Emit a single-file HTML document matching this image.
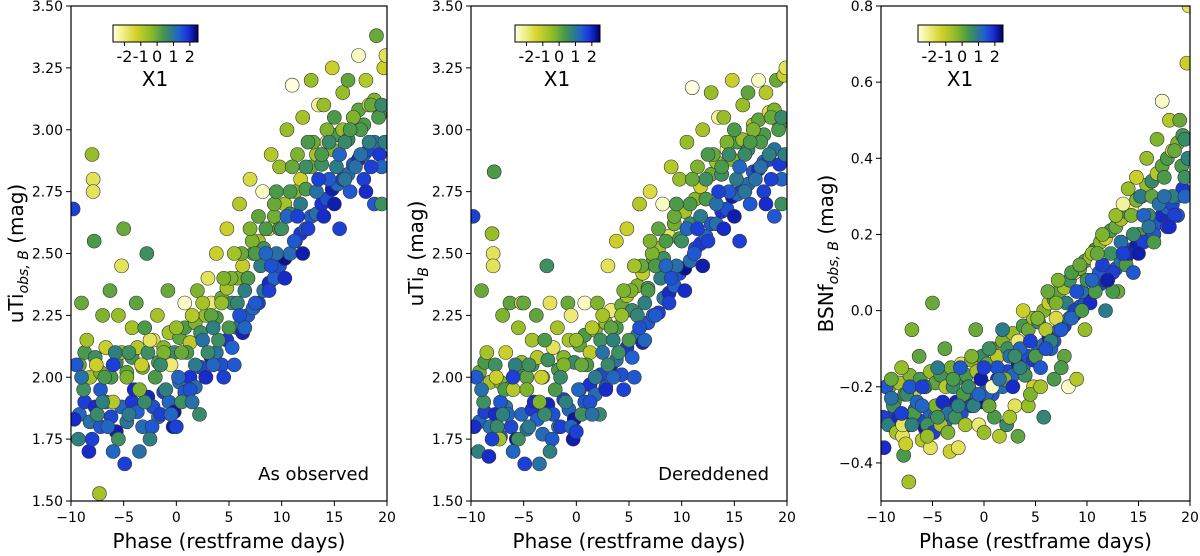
<!DOCTYPE html>
<html><head><meta charset="utf-8">
<style>
html,body{margin:0;padding:0;background:#fff;}
svg{display:block;font-family:"DejaVu Sans","Liberation Sans",sans-serif;}
</style></head>
<body>
<svg id="fig" width="1200" height="556" viewBox="0 0 1200 556">
<defs>
<linearGradient id="cmap" x1="0" x2="1" y1="0" y2="0">
<stop offset="0" stop-color="#ffffe0"/><stop offset="0.13" stop-color="#eeee80"/><stop offset="0.27" stop-color="#d2d22a"/>
<stop offset="0.46" stop-color="#88b828"/><stop offset="0.58" stop-color="#4a9a4a"/><stop offset="0.68" stop-color="#2e8080"/>
<stop offset="0.78" stop-color="#2060d0"/><stop offset="0.88" stop-color="#1a30d8"/><stop offset="1" stop-color="#000068"/>
</linearGradient>
</defs>
</svg>
<script>
const phases=[-9.8,-9.7,-9.5,-9.3,-9.0,-8.8,-8.5,-8.3,-8.0,-7.9,
-7.9,-7.8,-7.6,-7.5,-7.3,-7.2,-7.0,-6.8,-6.5,-6.3,
-6.0,-5.8,-5.5,-5.2,-5.0,-4.9,-4.7,-4.5,-4.2,-4.0,
-3.8,-3.5,-3.3,-3.0,-2.8,-2.5,-2.3,-2.0,-1.8,-1.5,
-1.2,-1.0,-0.8,-0.5,-0.3,0,0.2,0.5,0.8,1.0,
1.3,1.5,1.8,2.0,2.2,2.5,2.8,3.0,3.3,3.5,
3.8,4.0,4.3,4.5,4.8,5.0,5.2,5.5,5.8,6.0,
6.2,6.5,6.8,7.0,7.2,7.5,7.8,8.0,8.2,8.5,
8.8,9.0,9.3,9.5,9.8,10.0,10.3,10.5,10.8,11.0,
11.2,11.5,11.8,12.0,12.3,12.5,12.8,13.0,13.3,13.5,
13.8,14.0,14.3,14.5,14.8,15.0,15.2,15.5,15.8,16.0,
16.3,16.5,16.8,17.0,17.3,17.5,17.8,18.0,18.3,18.5,
18.8,19.0,19.2,19.5,19.7,19.8,19.9,19.5,
-9,-8,-7,-6,-5.5,-4.5,-3.5,-2.5,-1.5,-0.5,
0.5,1.5,2.5,3.5,4.5,5.5,6.5,7.5,8.5,9.5,
10.5,11.5,12.5,13.5,14.5,15.5,16.5,17.5,18.5,19.5,
3,6,9,12,15,18,0,-3,-6,7,11,14,16];
const x1s=[1.5,1.8,1.2,0.5,-0.3,0.2,-1,1.8,-0.8,-2,
-2,0,-1.5,0.3,-1,1.2,-0.5,0,1,-0.2,
-1.2,0.5,0.2,-2,-0.3,1.5,-0.5,0.6,-1,1.8,
-0.2,0.8,-1.5,0.3,0.2,-2,1.2,0,-1,1.5,
-0.5,0.5,-0.3,-2.2,2,-0.8,1,0.2,-2.8,0,
1.3,-1.2,0.6,-0.5,0.3,0.8,1.8,-2,-0.2,1,
-1.5,0.2,-0.8,1.5,-1.5,0,-0.5,1.2,0.4,-1.2,
-0.3,1,0,-1.8,-0.5,1.2,-0.2,0.5,-2.8,0,
1.5,-1.2,-0.3,0.8,-0.8,0.2,1.8,-0.8,0,-3,
1.2,-0.5,0.6,-1,0.2,1.5,-0.8,-0.3,0.8,-2.5,
0,1.8,-0.5,1.2,-1.5,0,0.6,1.5,-0.8,0.3,
-0.2,1.2,-0.5,0.8,-2.8,0,1.5,-1.2,0.5,-0.3,
1.2,-0.3,0,1,-1.5,0.5,-2,0.2,
0.8,1.5,0.5,1.5,-0.8,0.2,-0.5,0.5,0.3,1,
-0.3,0.8,-1,0.5,-0.5,-1,0.5,0,1,0,
1,1.5,0,1.5,0.3,1,0,0.8,1.5,0.3,
0.3,1.3,1.3,2,2,1.8,1.5,0,1,-0.5,-0.3,-0.8,0.7];
const magsObs=[2.68,1.83,2.05,1.75,2.3,1.95,2.15,1.7,2.9,2.8,
2.75,2.55,2.05,1.85,1.53,1.95,2.25,2.0,1.8,2.35,
1.9,2.1,1.75,2.45,2.6,1.65,2.0,1.85,2.2,1.95,
2.3,1.7,2.05,1.9,2.5,2.15,1.8,2.0,2.25,1.85,
2.1,1.95,2.35,2.05,1.8,2.2,2.0,1.9,2.3,2.1,
1.95,2.25,2.05,2.35,1.85,2.15,2.0,2.4,2.25,2.05,
2.5,2.15,2.3,2.0,2.6,2.2,2.4,2.05,2.3,2.7,
2.5,2.2,2.4,2.8,2.55,2.3,2.65,2.45,2.75,2.6,
2.35,2.9,2.7,2.5,2.85,2.6,2.4,3.0,2.75,3.18,
2.55,2.9,2.7,3.05,2.85,2.6,3.2,2.95,2.75,3.1,
2.9,2.65,3.0,2.8,3.25,3.05,2.85,2.6,3.15,2.95,
3.2,2.75,3.05,2.85,3.3,3.0,2.8,3.2,2.95,3.1,
2.7,3.38,3.05,2.85,3.25,2.95,3.3,2.7,
2.0,1.75,1.9,2.05,2.25,2.1,1.95,1.75,2.05,1.85,
2.1,1.9,2.3,2.2,2.4,2.5,2.35,2.5,2.5,2.75,
2.65,2.65,2.95,2.8,2.95,2.9,3.0,2.9,2.85,3.1,
2.1,2.25,2.45,2.5,2.7,2.75,1.8,2.2,1.7,2.6,2.85,3.1,2.8];
const magsDered=[2.65,1.8,2.0,1.7,2.35,1.9,2.1,1.68,2.58,2.5,
2.45,2.83,2.0,1.8,1.75,1.9,2.25,1.95,1.85,2.3,
1.95,2.05,1.75,2.3,2.3,1.65,1.95,1.8,2.15,1.9,
2.25,1.65,2.0,1.85,2.45,2.3,1.75,1.95,2.2,1.8,
2.05,1.9,2.3,2.25,1.75,2.15,1.95,1.85,2.3,2.05,
1.9,2.2,2.0,2.3,1.85,2.1,1.95,2.45,2.2,2.0,
2.55,2.1,2.25,1.95,2.6,2.15,2.35,2.0,2.25,2.7,
2.45,2.15,2.35,2.75,2.5,2.25,2.6,2.4,2.7,2.55,
2.3,2.85,2.65,2.45,2.8,2.55,2.35,2.95,2.7,3.17,
2.5,2.85,2.65,3.0,2.8,2.55,3.15,2.9,2.7,3.05,
2.85,2.6,2.95,2.75,3.2,3.0,2.8,2.55,3.1,2.9,
3.15,2.7,3.0,2.8,3.2,2.95,2.75,3.15,2.9,3.05,
2.65,3.2,3.0,2.8,3.22,2.9,3.25,2.7,
1.95,1.75,1.85,2.0,2.2,2.05,1.9,1.7,2.0,1.8,
2.05,1.85,2.25,2.15,2.35,2.45,2.3,2.45,2.45,2.7,
2.6,2.6,2.9,2.75,2.9,2.85,2.95,2.85,2.8,3.05,
2.05,2.2,2.4,2.45,2.65,2.7,1.78,2.15,1.7,2.55,2.8,3.05,2.75];
const magsBSNf=[-0.28,-0.36,-0.2,-0.3,-0.18,-0.25,-0.32,-0.28,-0.15,-0.33,
-0.3,-0.38,-0.35,-0.22,-0.45,-0.2,-0.05,-0.27,-0.24,-0.12,
-0.34,-0.2,-0.3,-0.36,0.02,-0.32,-0.25,-0.15,-0.3,-0.24,
-0.1,-0.27,-0.37,-0.2,-0.28,-0.36,-0.15,-0.22,-0.3,-0.2,
-0.12,-0.25,-0.05,-0.3,-0.18,-0.32,-0.22,-0.1,-0.2,-0.28,
-0.15,-0.33,-0.05,-0.18,-0.3,-0.12,-0.2,-0.25,-0.33,-0.1,
0.0,-0.17,-0.25,-0.08,-0.2,-0.12,-0.02,-0.15,-0.28,-0.05,
0.05,-0.1,-0.18,-0.02,0.08,-0.05,-0.12,0.02,-0.2,0.1,
0.0,-0.18,0.12,0.05,-0.05,0.08,0.02,0.15,0.05,0.12,
0.1,0.2,0.0,0.08,0.15,0.1,0.25,0.05,0.18,0.28,
0.12,0.15,0.25,0.1,0.35,0.2,0.3,0.18,0.4,0.25,
0.3,0.2,0.45,0.28,0.55,0.35,0.22,0.5,0.3,0.42,
0.25,0.5,0.38,0.3,0.65,0.4,0.8,0.35,
-0.23,-0.27,-0.3,-0.2,-0.33,-0.28,-0.32,-0.25,-0.2,-0.22,
-0.25,-0.18,-0.28,-0.15,-0.22,-0.2,-0.08,-0.15,-0.02,0.0,
0.08,0.12,0.05,0.15,0.2,0.25,0.18,0.3,0.25,0.45,
-0.12,-0.1,0.05,0.08,0.15,0.22,-0.15,-0.18,-0.25,0.02,0.15,0.32,0.22];
// second batch of supernovae (filling the dense band)
const phases2=[-9.2,-8.7,-8.2,-7.7,-7.2,-6.7,-6.2,-5.7,-5.2,-4.7,-4.2,-3.7,-3.2,-2.7,-2.2,-1.7,-1.2,-0.7,-0.2,0.3,0.8,1.3,1.8,2.3,2.8,3.3,3.8,4.3,4.8,5.3,5.8,6.3,6.8,7.3,7.8,8.3,8.8,9.3,9.8,10.3,10.8,11.3,11.8,12.3,12.8,13.3,13.8,14.3,14.8,15.3,15.8,16.3,16.8,17.3,17.8,18.3,18.8,19.3,
-9.2,-8.7,-8.2,-7.7,-7.2,-6.7,-6.2,-5.7,-5.2,-4.7,-4.2,-3.7,-3.2,-2.7,-2.2,-1.7,-1.2,-0.7,-0.2,0.3,0.8,1.3,1.8,2.3,2.8,3.3,3.8,4.3,4.8,5.3,5.8,6.3,6.8,7.3,7.8,8.3,8.8,9.3,9.8,10.3,10.8,11.3,11.8,12.3,12.8,13.3,13.8,14.3,14.8,15.3,15.8,16.3,16.8,17.3,17.8,18.3,18.8,19.3];
const x1s2=[-0.3,0,-1,0.2,-0.5,-1.5,0,0.3,-0.8,-0.2,0.1,-1.2,-0.4,0.2,-2,0,-0.6,-1,0.3,-0.2,0,-1.3,-0.5,0.2,-0.8,-2.2,0,-0.3,-1,0.3,-0.5,-1.4,0,-0.2,-0.9,0.2,-2,-0.4,0,-1,0.3,-0.6,-1.5,0,-0.3,-1,0.2,-2.4,-0.5,0,-0.8,0.3,-1.2,-0.2,0,-1.8,-0.5,0.1,
1,1.5,0.8,1.8,1.2,0.6,1.4,2,1,0.7,1.6,1.1,0.9,1.9,1.3,0.6,1.5,1,2.1,0.8,1.2,1.7,0.9,1.4,1,2,0.7,1.3,1.6,1.1,0.8,1.9,1.2,1,1.5,0.7,1.8,1.1,1.3,2.2,0.9,1.4,1.6,1,1.2,0.8,1.7,1.3,2,1,1.5,0.9,1.2,1.8,1.1,1.4,0.8,1.6];
const magsObs2=[2.05,2.1,2.0,2.08,2.02,2.12,2.0,2.06,2.1,2.02,2.08,2.12,2.04,2.1,2.15,2.06,2.12,2.18,2.1,2.16,2.2,2.14,2.22,2.18,2.25,2.3,2.24,2.32,2.36,2.3,2.4,2.45,2.4,2.5,2.55,2.52,2.6,2.65,2.6,2.7,2.66,2.75,2.8,2.76,2.85,2.9,2.86,2.95,2.92,2.98,3.0,2.96,3.05,3.08,3.02,3.1,3.12,3.06,
1.85,1.9,1.82,1.88,1.8,1.9,1.84,1.78,1.88,1.82,1.9,1.86,1.8,1.92,1.88,1.84,1.94,1.9,1.86,1.98,1.94,2.0,1.96,2.04,2.0,2.08,2.1,2.05,2.15,2.12,2.2,2.18,2.25,2.28,2.3,2.35,2.38,2.4,2.45,2.48,2.5,2.55,2.58,2.6,2.65,2.66,2.7,2.72,2.76,2.78,2.8,2.82,2.86,2.88,2.9,2.92,2.95,2.9];
const magsDered2=[2.02,2.06,1.98,2.05,1.98,2.1,1.96,2.03,2.06,2.0,2.05,2.08,2.0,2.07,2.12,2.03,2.08,2.15,2.06,2.13,2.17,2.1,2.19,2.15,2.22,2.27,2.2,2.29,2.33,2.27,2.37,2.42,2.36,2.47,2.52,2.48,2.57,2.62,2.56,2.67,2.62,2.72,2.77,2.72,2.82,2.87,2.82,2.92,2.88,2.95,2.96,2.92,3.02,3.04,2.98,3.07,3.08,3.02,
1.82,1.86,1.8,1.85,1.76,1.88,1.8,1.75,1.85,1.79,1.87,1.83,1.77,1.89,1.85,1.8,1.91,1.87,1.83,1.95,1.9,1.97,1.93,2.01,1.96,2.05,2.07,2.01,2.12,2.08,2.17,2.14,2.22,2.25,2.26,2.32,2.34,2.37,2.42,2.44,2.47,2.52,2.54,2.57,2.62,2.62,2.67,2.68,2.73,2.74,2.77,2.78,2.83,2.84,2.87,2.88,2.92,2.86];
const magsBSNf2=[-0.2,-0.24,-0.19,-0.22,-0.17,-0.21,-0.18,-0.2,-0.16,-0.19,-0.17,-0.2,-0.15,-0.18,-0.14,-0.17,-0.13,-0.16,-0.12,-0.14,-0.1,-0.12,-0.08,-0.1,-0.06,-0.08,-0.04,-0.05,-0.02,-0.03,0.0,0.02,0.03,0.05,0.06,0.08,0.1,0.11,0.13,0.14,0.16,0.18,0.19,0.21,0.22,0.24,0.26,0.27,0.29,0.3,0.33,0.34,0.36,0.38,0.4,0.42,0.44,0.46,
-0.3,-0.27,-0.32,-0.28,-0.3,-0.26,-0.29,-0.31,-0.27,-0.28,-0.25,-0.29,-0.26,-0.24,-0.27,-0.23,-0.25,-0.22,-0.24,-0.2,-0.22,-0.18,-0.2,-0.16,-0.17,-0.14,-0.15,-0.12,-0.13,-0.1,-0.09,-0.07,-0.08,-0.05,-0.04,-0.02,-0.01,0.01,0.02,0.04,0.05,0.07,0.08,0.1,0.11,0.13,0.14,0.16,0.17,0.19,0.2,0.22,0.23,0.25,0.27,0.28,0.3,0.32];
const magTicks=[1.50,1.75,2.00,2.25,2.50,2.75,3.00,3.25,3.50];
const bsnfTicks=[-0.4,-0.2,0.0,0.2,0.4,0.6,0.8];
const phaseTicks=[-10,-5,0,5,10,15,20];
const cbTicks=[-2,-1,0,1,2];

const NS='http://www.w3.org/2000/svg';
const svg=document.getElementById('fig');
function mk(tag,attrs,parent){const e=document.createElementNS(NS,tag);for(const k in attrs)e.setAttribute(k,attrs[k]);(parent||svg).appendChild(e);return e;}
const stops=[[-3,[255,255,224]],[-2.3,[238,238,128]],[-1.6,[210,210,42]],[-0.6,[136,184,40]],[0,[74,154,74]],[0.5,[46,128,128]],[1.1,[32,96,208]],[1.7,[26,48,216]],[2.5,[0,0,104]]];
function color(v){if(v<=stops[0][0])return 'rgb('+stops[0][1]+')';for(let i=1;i<stops.length;i++){if(v<=stops[i][0]){const a=stops[i-1],b=stops[i],t=(v-a[0])/(b[0]-a[0]);return 'rgb('+a[1].map((c,j)=>Math.round(c+(b[1][j]-c)*t)).join(',')+')';}}return 'rgb('+stops[stops.length-1][1]+')';}

const panels=[
 {name:'observed',L:71,R:387,ymin:1.5,ymax:3.5,ticks:magTicks,fmt:v=>v.toFixed(2),mags:magsObs,mags2:magsObs2,ylab:['uTi','obs, B'],note:'As observed',cb:113},
 {name:'dereddened',L:471,R:787,ymin:1.5,ymax:3.5,ticks:magTicks,fmt:v=>v.toFixed(2),mags:magsDered,mags2:magsDered2,ylab:['uTi','B'],note:'Dereddened',cb:515},
 {name:'bsnf',L:881,R:1190,ymin:-0.5,ymax:0.8,ticks:bsnfTicks,fmt:v=>(v<0?'\u2212':'')+Math.abs(v).toFixed(1),mags:magsBSNf,mags2:magsBSNf2,ylab:['BSNf','obs, B'],note:null,cb:918}
];
const T=6,B=501;
panels.forEach(p=>{
 const g=mk('g',{});
 
 
 const xs=v=>p.L+(v+10)/30*(p.R-p.L);
 const ys=v=>B-(v-p.ymin)/(p.ymax-p.ymin)*(B-T);
 const cp='clip-'+p.name;
 const cpe=mk('clipPath',{id:cp},g);mk('rect',{x:p.L,y:T,width:p.R-p.L,height:B-T},cpe);
 const pts=mk('g',{'clip-path':'url(#'+cp+')'},g);
 
 
 for(let i=0;i<phases2.length;i++){
  const c=mk('circle',{cx:xs(phases2[i]),cy:ys(p.mags2[i]),r:7,fill:color(x1s2[i]),stroke:'#333','stroke-width':0.6},pts);
  
  
 }
 for(let i=0;i<phases.length;i++){
  const c=mk('circle',{cx:xs(phases[i]),cy:ys(p.mags[i]),r:7,fill:color(x1s[i]),stroke:'#333','stroke-width':0.6},pts);
  
  
 }
 const fr=mk('rect',{x:p.L,y:T,width:p.R-p.L,height:B-T,fill:'none',stroke:'#000','stroke-width':1.2},g);
 
 
 phaseTicks.forEach(t=>{const x=xs(t);mk('line',{x1:x,x2:x,y1:B,y2:B+5,stroke:'#000'},g);
  const tx=mk('text',{x:x,y:B+21,'text-anchor':'middle','font-size':14},g);tx.textContent=(t<0?'\u2212':'')+Math.abs(t);
  
  });
 p.ticks.forEach(t=>{const y=ys(t);mk('line',{x1:p.L-5,x2:p.L,y1:y,y2:y,stroke:'#000'},g);
  const tx=mk('text',{x:p.L-8,y:y+5,'text-anchor':'end','font-size':14},g);tx.textContent=p.fmt(t);
  
  });
 const xl=mk('text',{x:(p.L+p.R)/2,y:548,'text-anchor':'middle','font-size':20},g);xl.textContent='Phase (restframe days)';
 
 
 const yl=mk('text',{transform:'translate('+(p.L-48)+','+((T+B)/2)+') rotate(-90)','text-anchor':'middle','font-size':20},g);
 
 
 const s1=mk('tspan',{},yl);s1.textContent=p.ylab[0];
 const s2=mk('tspan',{'font-size':14,'font-style':'italic',dy:5},yl);s2.textContent=p.ylab[1];
 const s3=mk('tspan',{dy:-5},yl);s3.textContent=' (mag)';
 if(p.note){const n=mk('text',{x:p.R-18,y:480,'text-anchor':'end','font-size':18},g);n.textContent=p.note;
  
  }
 const cb=mk('g',{},g);
 
 
 mk('rect',{x:p.cb,y:25,width:85,height:17,fill:'url(#cmap)',stroke:'#000','stroke-width':1},cb);
 const cx=v=>p.cb+(v+2.7)/5.2*85;
 cbTicks.forEach(t=>{mk('line',{x1:cx(t),x2:cx(t),y1:42,y2:46,stroke:'#000'},cb);
  const tx=mk('text',{x:cx(t),y:62,'text-anchor':'middle','font-size':16},cb);tx.textContent=String(t);
  
  });
 const ct=mk('text',{x:p.cb+42,y:86,'text-anchor':'middle','font-size':20},cb);ct.textContent='X1';
 
 
});
</script>
</body></html>
